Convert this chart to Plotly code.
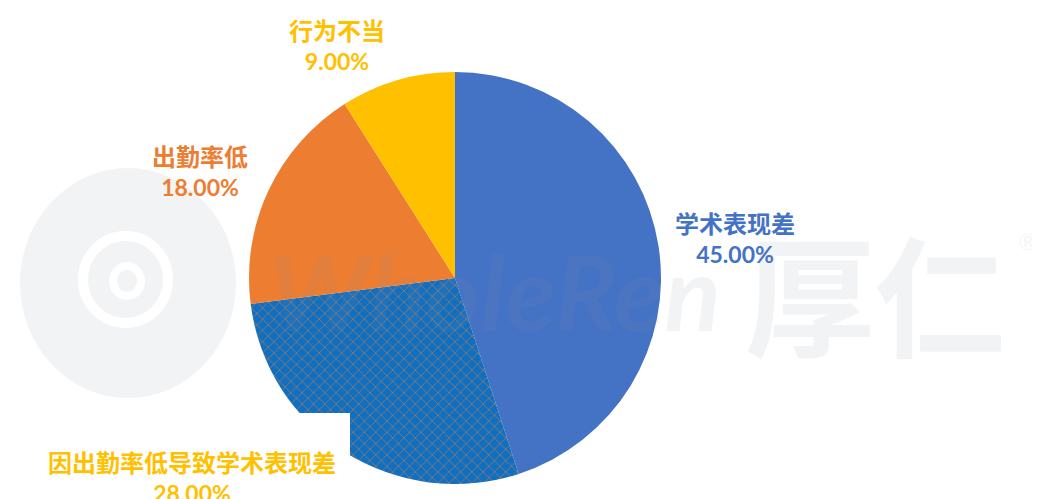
import plotly.graph_objects as go

categories = ["学术表现差", "因出勤率低导致学术表现差", "出勤率低", "行为不当"]
values = [45.00, 28.00, 18.00, 9.00]
slice_colors = ["#4472C4", "#0F6FC0", "#ED7D31", "#FFC000"]
label_colors = ["#4472C4", "#FFC000", "#ED7D31", "#FFC000"]
# label centres in figure pixels (x from left, y from top)
label_px = [(727, 230), (184, 469), (192, 163), (329, 38)]

W, H = 1040, 499


def px(x, y):
    return x / W, (H - y) / H


fig = go.Figure()

fig.add_trace(go.Pie(
    labels=categories,
    values=values,
    sort=False,
    direction="clockwise",
    rotation=0,
    textinfo="none",
    hoverinfo="label+percent",
    marker=dict(
        colors=slice_colors,
        line=dict(width=0),
        pattern=dict(
            shape=["", "x", "", ""],
            fgcolor="#ED7D31",
            bgcolor=slice_colors,
            size=8,
            solidity=0.12,
        ),
    ),
    domain=dict(x=[241 / W, 653 / W], y=[23 / H, 435 / H]),
    showlegend=False,
))

# watermark (faint logo and text)
wm = "rgba(140,150,160,0.11)"
fig.add_shape(type="circle", xref="paper", yref="paper",
              x0=12 / W, x1=228 / W, y0=(H - 390) / H, y1=(H - 160) / H,
              fillcolor=wm, line=dict(width=0), layer="below")
fig.add_shape(type="circle", xref="paper", yref="paper",
              x0=75 / W, x1=160 / W, y0=(H - 315) / H, y1=(H - 228) / H,
              fillcolor="rgba(0,0,0,0)", line=dict(width=10, color="white"), layer="below")
fig.add_shape(type="circle", xref="paper", yref="paper",
              x0=105 / W, x1=133 / W, y0=(H - 288) / H, y1=(H - 258) / H,
              fillcolor="rgba(0,0,0,0)", line=dict(width=8, color="white"), layer="below")
x, y = px(487, 282)
fig.add_annotation(text="<b><i>WholeRen</i></b>", x=x, y=y,
                   xref="paper", yref="paper", showarrow=False,
                   xanchor="center", yanchor="middle",
                   font=dict(family="Lato", size=104, color=wm))
x, y = px(867, 282)
fig.add_annotation(text="<b>厚仁</b>", x=x, y=y,
                   xref="paper", yref="paper", showarrow=False,
                   xanchor="center", yanchor="middle",
                   font=dict(family="Noto Sans CJK SC", size=130, color=wm))
x, y = px(1020, 232)
fig.add_annotation(text="®", x=x, y=y,
                   xref="paper", yref="paper", showarrow=False,
                   xanchor="center", yanchor="middle",
                   font=dict(family="Lato", size=24, color=wm))

# white box behind the bottom-left label
fig.add_shape(type="rect", xref="paper", yref="paper",
              x0=-20 / W, x1=342 / W, y0=-0.05, y1=(H - 405) / H,
              fillcolor="white", line=dict(width=0), layer="above")

# data labels
for cat, val, col, (lx, ly) in zip(categories, values, label_colors, label_px):
    x, y = px(lx, ly)
    fig.add_annotation(
        text=(f"<b><span style='font-size:24px'>{cat}</span></b><br>"
              f"<b><span style='font-size:23px'>{val:.2f}%</span></b>"),
        x=x, y=y, xref="paper", yref="paper", showarrow=False,
        xanchor="center", yanchor="middle", align="center",
        font=dict(family="Lato, Noto Sans CJK SC", size=23, color=col),
    )

fig.update_layout(
    width=W, height=H,
    margin=dict(l=0, r=0, t=0, b=0),
    paper_bgcolor="white",
    plot_bgcolor="white",
)

fig.write_html("out.html")
